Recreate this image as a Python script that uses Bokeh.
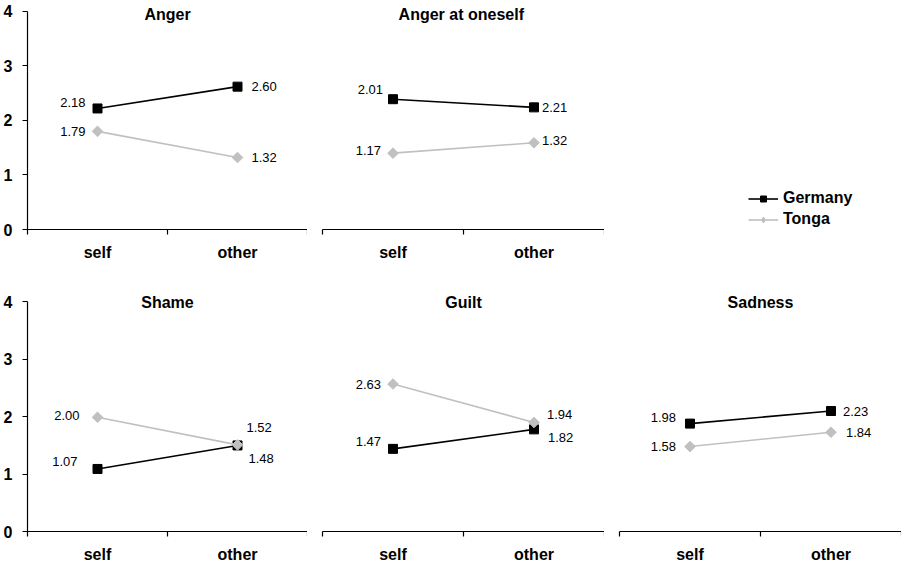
from bokeh.plotting import figure
from bokeh.models import (ColumnDataSource, FactorRange, Range1d, LinearAxis,
                          FixedTicker, Label, Legend, LegendItem)
from bokeh.layouts import column, row
from bokeh.embed import file_html
from bokeh.resources import INLINE
from bokeh.core.properties import value

# ---------------- data ----------------
conditions = ["self", "other"]
emotions = ["Anger", "Anger at  oneself", "Shame", "Guilt", "Sadness"]
series_names = ["Germany", "Tonga"]
y_ticks = [0, 1, 2, 3, 4]

# plotted positions (as drawn in the picture), one entry per emotion
germany_self = [2.22, 2.39, 1.09, 1.44, 1.88]
germany_other = [2.62, 2.24, 1.50, 1.78, 2.10]
tonga_self = [1.80, 1.40, 1.99, 2.57, 1.48]
tonga_other = [1.32, 1.59, 1.51, 1.90, 1.73]

# printed value labels
germany_self_text = ["2.18", "2.01", "1.07", "1.47", "1.98"]
germany_other_text = ["2.60", "2.21", "1.48", "1.82", "2.23"]
tonga_self_text = ["1.79", "1.17", "2.00", "2.63", "1.58"]
tonga_other_text = ["1.32", "1.32", "1.52", "1.94", "1.84"]

# ---------------- style ----------------
FONT = "Liberation Sans"
GERMANY_COLOR = "#000000"
TONGA_COLOR = "#c0c0c0"
Y_TOP = 4.2   # frame extends a little above the axis so titles fit inside

# label offsets in px (dx to text edge, dy upwards)
germany_self_off = [(-12, 6), (-10, 10), (-20, 7), (-12, 7), (-14, 6)]
germany_other_off = [(14, 0), (8, 0), (11, -13), (14, -8), (12, 0)]
tonga_self_off = [(-12, 0), (-12, 3), (-18, 2), (-12, 0), (-14, 0)]
tonga_other_off = [(14, 0), (8, 2), (9, 17), (13, 8), (15, 0)]


def base_figure(width, height, bl, br, bt, bb, y_range):
    p = figure(width=width, height=height,
               x_range=FactorRange(factors=conditions), y_range=y_range,
               output_backend="svg", toolbar_location=None,
               x_axis_location=None, y_axis_location=None,
               min_border_left=bl, min_border_right=br,
               min_border_top=bt, min_border_bottom=bb)
    p.outline_line_color = None
    p.xgrid.visible = False
    p.ygrid.visible = False
    p.background_fill_color = "white"
    p.border_fill_color = "white"
    return p


def add_series(p, k, g_size=9, t_marker="square", t_angle=0.785398, t_size=7.5):
    g = [germany_self[k], germany_other[k]]
    t = [tonga_self[k], tonga_other[k]]
    gl = p.line(conditions, g, line_color=GERMANY_COLOR, line_width=1.6)
    gs = p.scatter(conditions, g, marker="square", size=g_size,
                   fill_color=GERMANY_COLOR, line_color=GERMANY_COLOR)
    tl = p.line(conditions, t, line_color=TONGA_COLOR, line_width=1.6)
    ts = p.scatter(conditions, t, marker=t_marker, angle=t_angle, size=t_size,
                   fill_color=TONGA_COLOR, line_color=TONGA_COLOR)
    return gl, gs, tl, ts


def make_panel(k, width, height, bl, br, bt, bb, show_y, title_dy):
    p = base_figure(width, height, bl, br, bt, bb, Range1d(0, Y_TOP))

    xa = LinearAxis(ticker=FixedTicker(ticks=[0.5, 1.5], minor_ticks=[0, 1, 2]),
                    major_label_overrides={0.5: conditions[0], 1.5: conditions[1]},
                    major_tick_line_color=None, major_tick_in=0, major_tick_out=0,
                    minor_tick_in=0, minor_tick_out=5,
                    minor_tick_line_color="black", minor_tick_line_width=1.2,
                    axis_line_color="black", axis_line_width=1.2,
                    major_label_text_font=FONT, major_label_text_font_size="16px",
                    major_label_text_font_style="bold", major_label_text_color="black",
                    major_label_standoff=9)
    p.add_layout(xa, "below")

    if show_y:
        ya = LinearAxis(ticker=FixedTicker(ticks=y_ticks), bounds=(0, 4),
                        major_tick_in=0, major_tick_out=5,
                        major_tick_line_color="black", major_tick_line_width=1.2,
                        minor_tick_line_color=None,
                        axis_line_color="black", axis_line_width=1.2,
                        major_label_text_font=FONT, major_label_text_font_size="16px",
                        major_label_text_font_style="bold", major_label_text_color="black",
                        major_label_standoff=10)
        p.add_layout(ya, "left")

    add_series(p, k)

    left_src = ColumnDataSource(dict(
        x=[conditions[0], conditions[0]],
        y=[germany_self[k], tonga_self[k]],
        t=[germany_self_text[k], tonga_self_text[k]],
        dx=[germany_self_off[k][0], tonga_self_off[k][0]],
        dy=[-germany_self_off[k][1], -tonga_self_off[k][1]],
    ))
    right_src = ColumnDataSource(dict(
        x=[conditions[1], conditions[1]],
        y=[germany_other[k], tonga_other[k]],
        t=[germany_other_text[k], tonga_other_text[k]],
        dx=[germany_other_off[k][0], tonga_other_off[k][0]],
        dy=[-germany_other_off[k][1], -tonga_other_off[k][1]],
    ))
    for src, align in ((left_src, "right"), (right_src, "left")):
        p.text(x="x", y="y", text="t", x_offset="dx", y_offset="dy", source=src,
               text_align=align, text_baseline="middle",
               text_font=value(FONT), text_font_size=value("13px"),
               text_color="black")

    p.add_layout(Label(x=1, y=4, y_offset=title_dy, text=emotions[k],
                       text_align="center", text_baseline="middle",
                       text_font=FONT, text_font_size="16px",
                       text_font_style="bold", text_color="black"))
    return p


def make_legend_panel(width, height, bb):
    # series drawn outside the visible y range: only the legend shows
    p = base_figure(width, height, 15, 0, 0, bb, Range1d(10, 14))
    gl, gs, tl, ts = add_series(p, 0, g_size=6, t_marker="diamond", t_angle=0,
                                t_size=7)
    legend = Legend(items=[LegendItem(label=series_names[0], renderers=[gl, gs]),
                           LegendItem(label=series_names[1], renderers=[tl, ts])],
                    location=(129, 1), orientation="vertical",
                    border_line_color=None, background_fill_alpha=0,
                    padding=0, margin=0, spacing=3,
                    label_height=18, glyph_height=15, glyph_width=30,
                    label_standoff=5,
                    label_text_font=FONT, label_text_font_size="16px",
                    label_text_font_style="bold", label_text_color="black")
    p.add_layout(legend)
    return p


p1 = make_panel(0, 307, 290, 25, 0, 0, 61, True, -3)
p2 = make_panel(1, 297, 290, 15, 0, 0, 61, False, -3)
p3 = make_legend_panel(297, 290, 61)
p4 = make_panel(2, 307, 277, 25, 0, 0, 36, True, -1)
p5 = make_panel(3, 297, 277, 15, 0, 0, 36, False, -1)
p6 = make_panel(4, 297, 277, 15, 0, 0, 36, False, -1)

layout = column(row(p1, p2, p3), row(p4, p5, p6))

open("out.html", "w").write(file_html(layout, INLINE))
